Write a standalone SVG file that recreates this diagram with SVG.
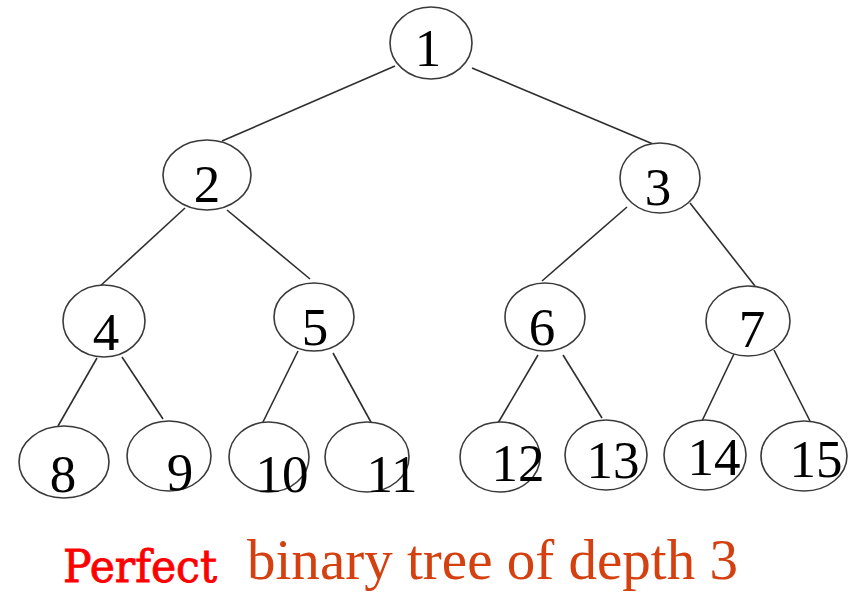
<svg xmlns="http://www.w3.org/2000/svg" width="865" height="606" viewBox="0 0 865 606">
<style>
.n ellipse{fill:#fff;stroke:#3a3a3a;stroke-width:1.6}
.n text{font-family:"Liberation Serif","Times New Roman",serif;font-size:53px;fill:#000;text-anchor:middle}
#edges line{stroke:#2e2e2e;stroke-width:1.6}
</style>
<rect width="865" height="606" fill="#fff"/>
<g id="edges">
<line x1="395" y1="66" x2="222" y2="141"/>
<line x1="472" y1="68" x2="653" y2="144"/>
<line x1="185" y1="208" x2="98" y2="288"/>
<line x1="227" y1="210" x2="310" y2="279"/>
<line x1="627" y1="207" x2="542" y2="281"/>
<line x1="690" y1="203" x2="755" y2="286"/>
<line x1="97" y1="358" x2="58" y2="426"/>
<line x1="122" y1="357" x2="163" y2="419"/>
<line x1="298" y1="351" x2="262" y2="424"/>
<line x1="333" y1="353" x2="372" y2="424"/>
<line x1="538" y1="355" x2="498" y2="423"/>
<line x1="563" y1="355" x2="602" y2="418"/>
<line x1="734" y1="354" x2="702" y2="421"/>
<line x1="774" y1="350" x2="810" y2="421"/>
</g>
<g id="n1" class="n"><ellipse cx="431" cy="43" rx="41" ry="36"/><text x="428" y="66">1</text></g>
<g id="n2" class="n"><ellipse cx="207" cy="175" rx="44" ry="35"/><text x="207" y="202">2</text></g>
<g id="n3" class="n"><ellipse cx="660" cy="178" rx="40" ry="35"/><text x="658" y="205">3</text></g>
<g id="n4" class="n"><ellipse cx="104" cy="321" rx="41" ry="36"/><text x="106" y="350">4</text></g>
<g id="n5" class="n"><ellipse cx="314" cy="317" rx="40" ry="34"/><text x="315" y="345">5</text></g>
<g id="n6" class="n"><ellipse cx="545" cy="317" rx="40" ry="34"/><text x="542" y="345">6</text></g>
<g id="n7" class="n"><ellipse cx="748" cy="321" rx="42" ry="35"/><text x="752" y="347">7</text></g>
<g id="n8" class="n"><ellipse cx="64" cy="462" rx="45" ry="36"/><text x="63" y="492">8</text></g>
<g id="n9" class="n"><ellipse cx="169" cy="456" rx="42" ry="35"/><text x="180" y="490">9</text></g>
<g id="n10" class="n"><ellipse cx="269" cy="457" rx="40" ry="35"/><text x="282" y="492">10</text></g>
<g id="n11" class="n"><ellipse cx="367" cy="457" rx="42" ry="35"/><text x="392" y="492">11</text></g>
<g id="n12" class="n"><ellipse cx="500" cy="457" rx="40" ry="35"/><text x="518" y="481">12</text></g>
<g id="n13" class="n"><ellipse cx="606" cy="455" rx="41" ry="35"/><text x="613" y="478">13</text></g>
<g id="n14" class="n"><ellipse cx="705" cy="455" rx="41" ry="35"/><text x="714" y="475">14</text></g>
<g id="n15" class="n"><ellipse cx="804" cy="456" rx="43" ry="35"/><text x="816" y="477">15</text></g>
<text x="63" y="582" font-family="'DejaVu Serif', serif" font-size="45" fill="#ff0000" stroke="#ff0000" stroke-width="0.9" textLength="154" lengthAdjust="spacingAndGlyphs">Perfect</text>
<text x="247" y="579" font-family="'Liberation Serif', serif" font-size="56" fill="#d4400f" textLength="491" lengthAdjust="spacingAndGlyphs">binary tree of depth 3</text>
</svg>
